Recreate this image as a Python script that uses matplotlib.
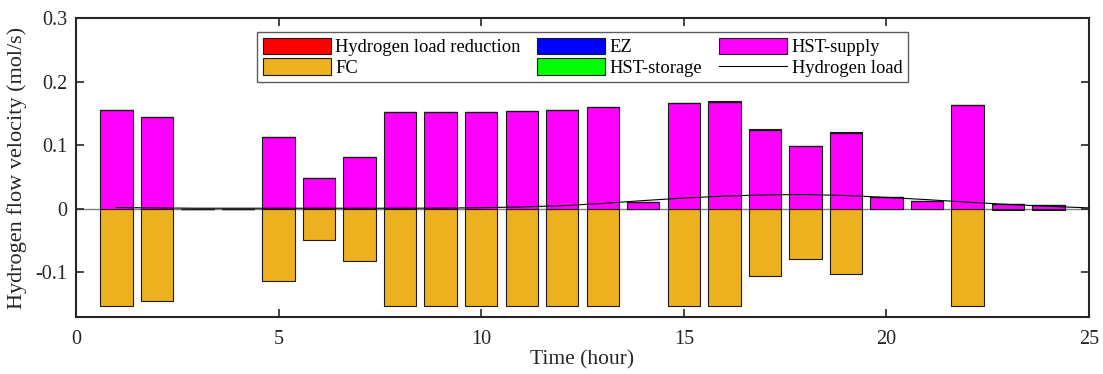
import matplotlib
matplotlib.use("Agg")
import matplotlib.pyplot as plt
import numpy as np

hours = list(range(1, 25))
hst_supply = [0.155, 0.145, 0.0, 0.0, 0.1125, 0.0484, 0.081, 0.1516, 0.1516, 0.1527,
              0.1537, 0.156, 0.160, 0.0115, 0.1667, 0.1685, 0.1245, 0.099, 0.1195, 0.0188,
              0.0125, 0.163, 0.0084, 0.006]
load_reduction = [0, 0, 0, 0, 0, 0, 0, 0, 0, 0,
                  0, 0, 0, 0, 0, 0.0015, 0.001, 0, 0.0015, 0,
                  0, 0, 0, 0]
ez = [0.0] * 24
hst_storage = [0.0] * 24
fc = [-0.152, -0.145, 0.0, 0.0, -0.1135, -0.0494, -0.0817, -0.152, -0.152, -0.152,
      -0.152, -0.152, -0.152, 0.0, -0.152, -0.152, -0.106, -0.079, -0.1025, 0.0,
      0.0, -0.152, -0.002, -0.002]
load_hours = list(range(1, 26))
hydrogen_load = [0.002, 0.0015, 0.001, 0.001, 0.001, 0.001, 0.001, 0.001, 0.0012, 0.0018,
                 0.003, 0.005, 0.0085, 0.013, 0.017, 0.020, 0.022, 0.0225, 0.021, 0.018,
                 0.0145, 0.0105, 0.007, 0.004, 0.0015]

plt.rcParams['font.family'] = ['Liberation Serif', 'DejaVu Serif']

W, H = 1103, 374
fig = plt.figure(figsize=(W / 100, H / 100), dpi=100)
ax = fig.add_axes([76 / W, 1 - 317 / H, (1089 - 76) / W, (317 - 18) / H])

w = 0.8
ec = '#1a1a1a'
lw = 0.8
hs = np.array(hst_supply)
st = np.array(hst_storage)
ezv = np.array(ez)
lr = np.array(load_reduction)

ax.axhline(0, color='#808080', lw=1.0, zorder=1)
b_fc = ax.bar(hours, fc, w, color='#EDB120', edgecolor=ec, linewidth=lw, zorder=2)
b_hs = ax.bar(hours, hs, w, color='#FF00FF', edgecolor=ec, linewidth=lw, zorder=2)
b_st = ax.bar(hours, st, w, bottom=hs, color='#00FF00', edgecolor=ec, linewidth=lw, zorder=2)
b_ez = ax.bar(hours, ezv, w, bottom=hs + st, color='#0000FF', edgecolor=ec, linewidth=lw, zorder=2)
b_lr = ax.bar(hours, lr, w, bottom=hs + st + ezv, color='#FF0000', edgecolor=ec, linewidth=lw, zorder=2)
ln, = ax.plot(load_hours, hydrogen_load, color='black', lw=0.8, zorder=3)

ax.set_xlim(0, 25)
ax.set_ylim(-0.17, 0.3)
ax.set_xticks([0, 5, 10, 15, 20, 25])
ax.set_yticks([-0.1, 0, 0.1, 0.2, 0.3])
ax.set_yticklabels(['-0.1', '0', '0.1', '0.2', '0.3'])
ax.tick_params(direction='in', top=True, right=True, length=6, width=1.2,
               labelsize=14.5, colors='#262626')
ax.tick_params(axis='x', pad=9)
ax.tick_params(axis='y', pad=6)
for s in ax.spines.values():
    s.set_linewidth(1.5)
    s.set_color('#262626')
ax.set_xlabel('Time (hour)', fontsize=15.5, color='#262626', labelpad=1)
ax.set_ylabel('Hydrogen flow velocity (mol/s)', fontsize=16, color='#262626', labelpad=6)

leg = fig.legend([b_lr, b_fc, b_ez, b_st, b_hs, ln],
                 ['Hydrogen load reduction', 'FC', 'EZ', 'HST-storage', 'HST-supply', 'Hydrogen load'],
                 ncol=3, loc='upper left', bbox_to_anchor=(257 / W, 1 - 32 / H),
                 fontsize=13.3, frameon=True, fancybox=False, edgecolor='#333333',
                 handlelength=3.68, handleheight=1.0, columnspacing=0.9, labelspacing=0.12,
                 borderpad=0.3, borderaxespad=0, handletextpad=0.25)
leg.get_frame().set_linewidth(1.0)

fig.savefig('out.png', dpi=100)
